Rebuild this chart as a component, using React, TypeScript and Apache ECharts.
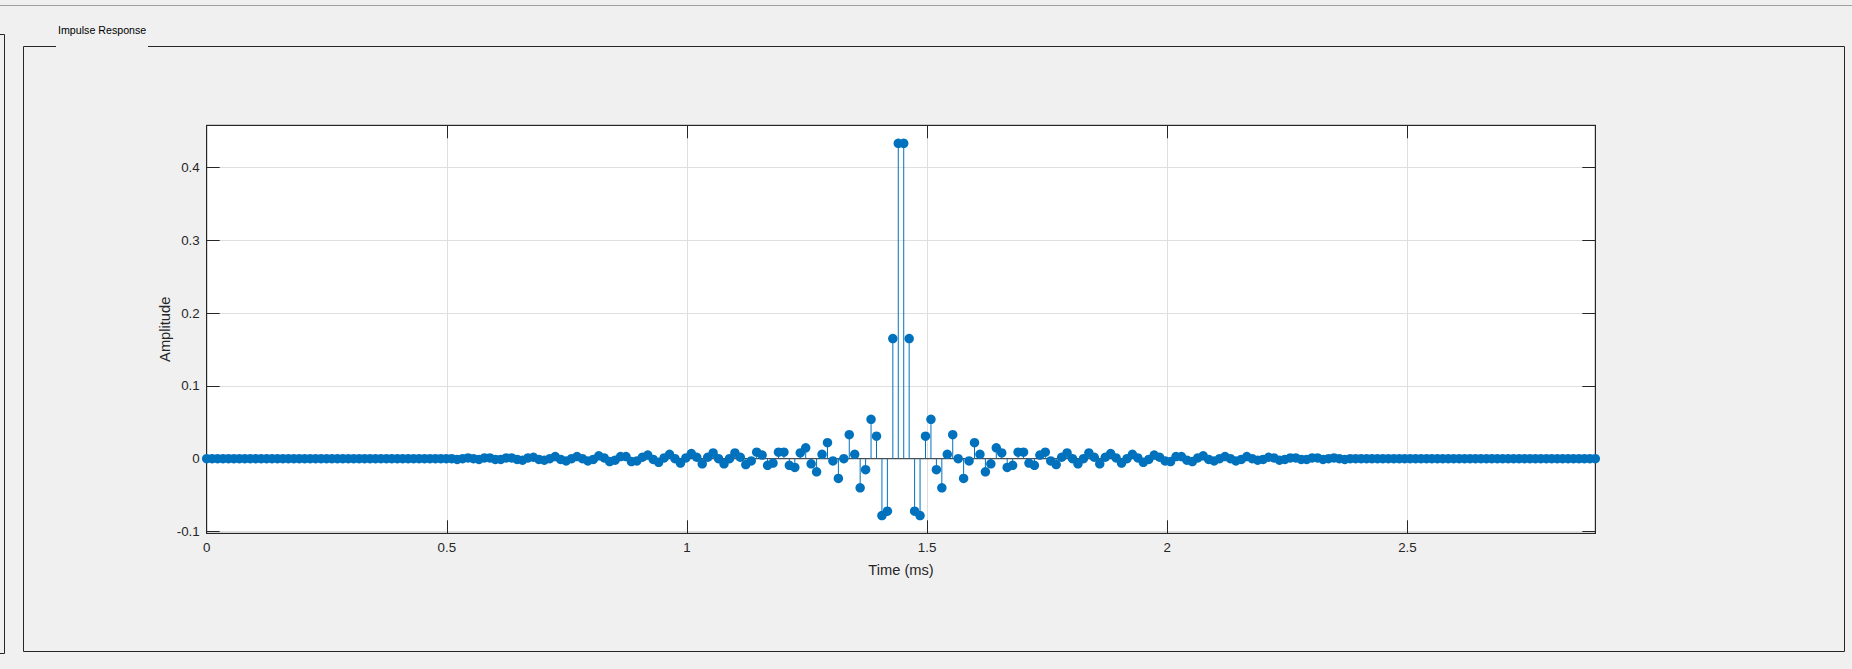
import React, { useEffect, useRef } from "react";
import * as echarts from "echarts";

const sampleRateKHz = 88.2;
const xTickLabels = ["0", "0.5", "1", "1.5", "2", "2.5"];
const yTickLabels = ["-0.1", "0", "0.1", "0.2", "0.3", "0.4"];

const amplitudeFirstHalf = [
  0, 0, 0, 0, 0, 0, 0, 0, 0, 0,
  0, 0, 0, 0, 0, 0, 0, 0, 0, 0,
  0, 0, 0, 0, 0, 0, 0, 0, 0, 0,
  0, 0, 0, 0, 0, 0, 0, 0, 0, 0,
  0, 0, 0, 0, 0, 0,
  -0.001, 0.0,
  0.001, 0.0, -0.001, 0.001, 0.001, -0.001, -0.001, 0.001, 0.001, -0.001,
  -0.002, 0.001, 0.002, -0.001, -0.002, 0.0, 0.003, -0.001, -0.003, 0.0,
  0.003, 0.0, -0.003, -0.001, 0.004, 0.001, -0.004, -0.002, 0.003, 0.003,
  -0.004, -0.003, 0.002, 0.005, -0.001, -0.005, 0.001, 0.006, 0.0, -0.006,
  0.001, 0.007, 0.002, -0.007, 0.002, 0.008, 0.0, -0.007, 0.0, 0.008,
  0.002, -0.008, -0.003, 0.009, 0.005, -0.009, -0.006, 0.009, 0.009, -0.009,
  -0.012, 0.008, 0.015, -0.007, -0.018, 0.006, 0.022, -0.003, -0.027, 0.0,
  0.033, 0.006, -0.04, -0.015, 0.054, 0.031, -0.078, -0.072, 0.165, 0.433,
];

const amplitudeSecondHalf = [
  0.433, 0.165, -0.072, -0.078, 0.031, 0.054, -0.015, -0.04, 0.006, 0.033,
  0.0, -0.027, -0.003, 0.022, 0.006, -0.018, -0.007, 0.015, 0.008, -0.012,
  -0.009, 0.009, 0.009, -0.006, -0.009, 0.005, 0.009, -0.003, -0.008, 0.002,
  0.008, 0.0, -0.007, 0.0, 0.008, 0.002, -0.007, 0.002, 0.007, 0.001,
  -0.006, 0.0, 0.006, 0.001, -0.005, -0.001, 0.005, 0.002, -0.003, -0.004,
  0.003, 0.003, -0.002, -0.004, 0.001, 0.004, -0.001, -0.003, 0.0, 0.003,
  0.0, -0.003, -0.001, 0.003, 0.0, -0.002, -0.001, 0.002, 0.001, -0.002,
  -0.001, 0.001, 0.001, -0.001, -0.001, 0.001, 0.001, -0.001, 0.0, 0.001,
  0.0, -0.001,
  0, 0, 0, 0, 0, 0, 0, 0, 0, 0,
  0, 0, 0, 0, 0, 0, 0, 0, 0, 0,
  0, 0, 0, 0, 0, 0, 0, 0, 0, 0,
  0, 0, 0, 0, 0, 0, 0, 0, 0, 0,
  0, 0, 0, 0, 0, 0,
];

const amplitude = [...amplitudeFirstHalf, ...amplitudeSecondHalf];
const points = amplitude.map((v, i) => [i / sampleRateKHz, v]);
const xMax = (amplitude.length - 1) / sampleRateKHz;
const yMin = -0.1024;
const yMax = 0.4577;

const DARK = "#262626";
const BLUE = "#0072BD";
const FONT = "'Liberation Sans', Arial, Helvetica, sans-serif";

function fmtX(v: number) {
  const k = Math.round(v / 0.5);
  if (Math.abs(v - k * 0.5) > 1e-6) return "";
  return xTickLabels[k] ?? "";
}
function fmtY(v: number) {
  const k = Math.round(v / 0.1);
  if (Math.abs(v - k * 0.1) > 1e-6) return "";
  return yTickLabels[k + 1] ?? "";
}

export default function App() {
  const ref = useRef<HTMLDivElement>(null);
  useEffect(() => {
    if (!ref.current) return;
    const chart = echarts.init(ref.current, undefined, { renderer: "svg" });
    const grid = { left: 206.7, top: 125.3, right: 1852 - 1595.3, bottom: 669 - 533.3 };
    chart.setOption({
      animation: false,
      backgroundColor: "#f0f0f0",
      textStyle: { fontFamily: FONT },
      grid: {
        ...grid,
        show: true,
        backgroundColor: "#ffffff",
        borderColor: DARK,
        borderWidth: 1,
        containLabel: false,
      },
      xAxis: [
        {
          type: "value",
          min: 0,
          max: xMax,
          interval: 0.5,
          position: "bottom",
          name: "Time (ms)",
          nameLocation: "middle",
          nameGap: 29,
          nameTextStyle: { color: DARK, fontSize: 14.67, fontFamily: FONT },
          axisLine: { show: true, onZero: false, lineStyle: { color: DARK, width: 1 } },
          axisTick: { show: true, inside: true, length: 13, lineStyle: { color: DARK } },
          axisLabel: { color: DARK, fontSize: 13.33, margin: 8, formatter: fmtX, fontFamily: FONT },
          splitLine: { show: true, lineStyle: { color: "#dfdfdf", width: 1 } },
        },
        {
          type: "value",
          min: 0,
          max: xMax,
          interval: 0.5,
          position: "top",
          axisLine: { show: true, onZero: false, lineStyle: { color: DARK, width: 1 } },
          axisTick: { show: true, inside: true, length: 13, lineStyle: { color: DARK } },
          axisLabel: { show: false },
          splitLine: { show: false },
        },
      ],
      yAxis: [
        {
          type: "value",
          min: yMin,
          max: yMax,
          splitNumber: 5,
          position: "left",
          name: "Amplitude",
          nameLocation: "middle",
          nameGap: 34,
          nameRotate: 90,
          nameMoveOverlap: false,
          nameTextStyle: { color: DARK, fontSize: 14.67, fontFamily: FONT },
          axisLine: { show: true, onZero: false, lineStyle: { color: DARK, width: 1 } },
          axisTick: { show: true, inside: true, length: 13, lineStyle: { color: DARK } },
          axisLabel: { color: DARK, fontSize: 13.33, margin: 7, formatter: fmtY, fontFamily: FONT },
          splitLine: { show: true, lineStyle: { color: "#dfdfdf", width: 1 } },
        },
        {
          type: "value",
          min: yMin,
          max: yMax,
          splitNumber: 5,
          position: "right",
          axisLine: { show: true, onZero: false, lineStyle: { color: DARK, width: 1 } },
          axisTick: { show: true, inside: true, length: 13, lineStyle: { color: DARK } },
          axisLabel: { show: false },
          splitLine: { show: false },
        },
      ],
      graphic: [
        {
          type: "line",
          shape: { x1: 0, y1: 5.5, x2: 1852, y2: 5.5 },
          style: { stroke: "#a0a0a0", lineWidth: 1 },
          silent: true,
        },
        {
          type: "polyline",
          shape: { points: [[0, 34.5], [4.5, 34.5], [4.5, 653.5], [0, 653.5]] },
          style: { stroke: DARK, lineWidth: 1, fill: "none" },
          silent: true,
        },
        {
          type: "polyline",
          shape: {
            points: [[56, 46.5], [23.5, 46.5], [23.5, 651.5], [1844.5, 651.5], [1844.5, 46.5], [148, 46.5]],
          },
          style: { stroke: DARK, lineWidth: 1, fill: "none" },
          silent: true,
        },
        {
          type: "text",
          x: 58,
          y: 30,
          style: {
            text: "Impulse Response",
            fill: "#000000",
            fontSize: 10.67,
            fontFamily: FONT,
            align: "left",
            verticalAlign: "middle",
          },
          silent: true,
        },
      ],
      series: [
        {
          type: "line",
          xAxisIndex: 0,
          yAxisIndex: 0,
          data: [[0, 0], [xMax, 0]],
          symbol: "none",
          lineStyle: { color: DARK, width: 1 },
          silent: true,
          z: 1,
        },
        {
          type: "custom",
          xAxisIndex: 0,
          yAxisIndex: 0,
          data: points,
          clip: false,
          silent: true,
          z: 2,
          renderItem: (params: any, api: any) => {
            const p0 = api.coord([api.value(0), 0]);
            const p1 = api.coord([api.value(0), api.value(1)]);
            return {
              type: "line",
              shape: { x1: p0[0], y1: p0[1], x2: p1[0], y2: p1[1] },
              style: { stroke: BLUE, lineWidth: 1 },
            };
          },
        },
        {
          type: "scatter",
          xAxisIndex: 0,
          yAxisIndex: 0,
          data: points,
          symbol: "circle",
          symbolSize: 9.5,
          clip: false,
          silent: true,
          itemStyle: { color: BLUE, opacity: 1 },
          z: 3,
        },
      ],
    });
    return () => chart.dispose();
  }, []);
  return (
    <div
      ref={ref}
      style={{ position: "fixed", left: 0, top: 0, width: 1852, height: 669 }}
    />
  );
}
